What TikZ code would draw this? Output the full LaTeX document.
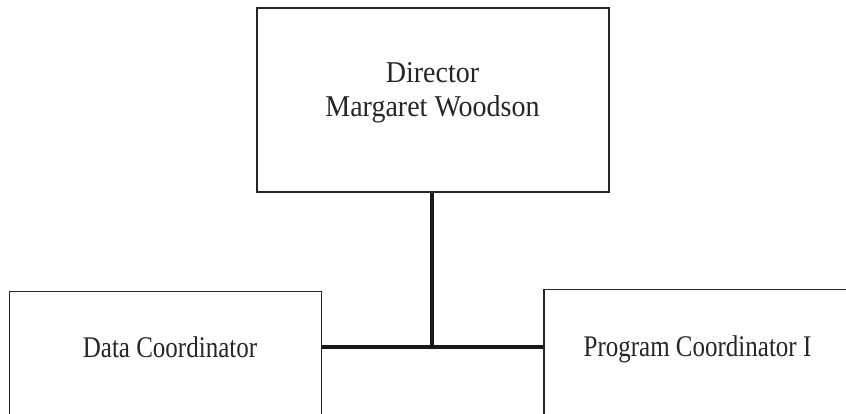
\documentclass[tikz,border=0pt]{standalone}
\usepackage{fontspec}
\setmainfont{Liberation Serif}
\newcommand{\tallish}[2]{\scalebox{1}[#1]{#2}}
\begin{document}
\begin{tikzpicture}[x=1pt,y=-1pt,
  box/.style={draw=black!85, line width=1.8pt, rectangle, inner sep=0pt, fill=white},
  link/.style={draw=black!90, line width=4.6pt},
  toptext/.style={font=\fontsize{28}{34}\selectfont, text=black!85, anchor=base, inner sep=0pt},
  subtext/.style={font=\fontsize{25}{30}\selectfont, text=black!85, anchor=base, inner sep=0pt}]
\useasboundingbox (0,0) rectangle (846,414);
% boxes
\node[box, minimum width=352pt, minimum height=184pt] (dir) at (433,100) {};
\node[box, minimum width=312pt, minimum height=150pt] (data) at (165.5,366.5) {};
\node[box, minimum width=340pt, minimum height=152pt] (prog) at (714,365.5) {};
% labels
\node[toptext] (dirtitle) at (432.5,83) {\tallish{1.08}{Director}};
\node[toptext] (dirname) at (432.5,117) {\tallish{1.08}{Margaret Woodson}};
\node[subtext] (datatext) at (170,357) {\tallish{1.2}{Data Coordinator}};
\node[subtext] (progtext) at (697.5,356) {\tallish{1.2}{Program Coordinator I}};
% connectors
\coordinate (j) at (432,347);
\draw[link] (dir.south -| j) -- (j);
\draw[link] (data.east |- j) -- (prog.west |- j);
\end{tikzpicture}
\end{document}
